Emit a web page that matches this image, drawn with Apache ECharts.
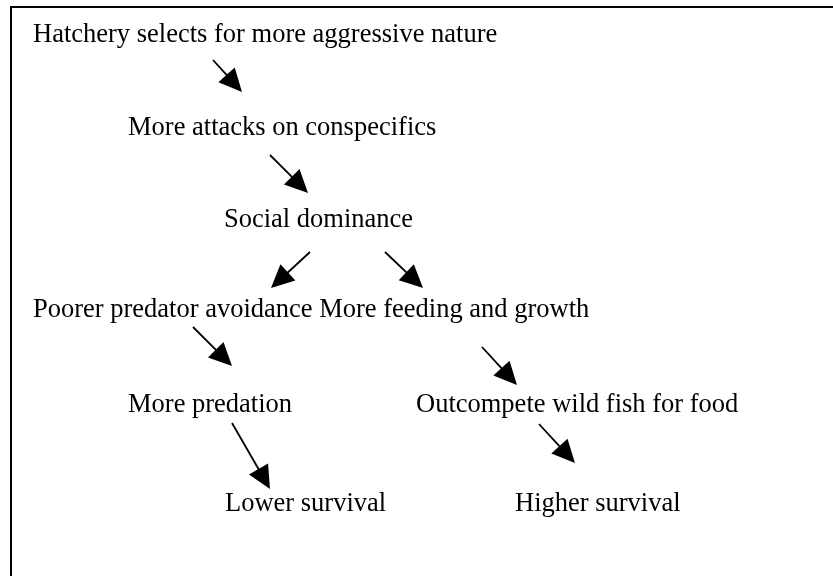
<!DOCTYPE html>
<html>
<head>
<meta charset="utf-8">
<script src="https://cdn.jsdelivr.net/npm/echarts@6/dist/echarts.min.js"></script>
<style>
html,body{margin:0;padding:0;background:#fff;}
#main{width:833px;height:576px;}
</style>
</head>
<body>
<div id="main"></div>
<script>
// Diagram text boxes (diagram units = pixels of the original page)
const labels = [
  "Hatchery selects for more aggressive nature",
  "More attacks on conspecifics",
  "Social dominance",
  "Poorer predator avoidance More feeding and growth",
  "More predation",
  "Outcompete wild fish for food",
  "Lower survival",
  "Higher survival"
];
const labelX = [33, 128, 224, 33, 128, 416, 225, 515];
const labelY = [35, 128, 220, 310, 405, 405, 504, 504];

// Arrows: start and tip
const arrowFromX = [213, 270, 310, 385, 193, 482, 232, 539];
const arrowFromY = [60, 155, 252, 252, 327, 347, 423, 424];
const arrowToX   = [242, 308, 271, 423, 232, 517, 270, 575];
const arrowToY   = [92, 193, 288, 288, 366, 385, 489, 463];

const textData = labels.map((t, i) => [labelX[i], labelY[i], t]);
const arrowData = arrowFromX.map((x, i) => [x, arrowFromY[i], arrowToX[i], arrowToY[i]]);

const chart = echarts.init(document.getElementById('main'), null, {renderer: 'canvas'});
const FONT = '"Liberation Serif", "Times New Roman", serif';

chart.setOption({
  backgroundColor: '#ffffff',
  animation: false,
  grid: {left: 0, top: 0, width: 833, height: 576, show: false},
  xAxis: {type: 'value', min: 0, max: 833, show: false},
  yAxis: {type: 'value', min: 0, max: 576, inverse: true, show: false},
  graphic: [{
    type: 'polyline',
    shape: {points: [[11, 580], [11, 7], [840, 7]]},
    style: {stroke: '#000', lineWidth: 2, fill: null}
  }],
  series: [
    {
      type: 'custom',
      coordinateSystem: 'cartesian2d',
      data: arrowData,
      renderItem: function (params, api) {
        const p0 = api.coord([api.value(0), api.value(1)]);
        const p1 = api.coord([api.value(2), api.value(3)]);
        const dx = p1[0] - p0[0], dy = p1[1] - p0[1];
        const len = Math.sqrt(dx * dx + dy * dy);
        const ux = dx / len, uy = dy / len;
        const headLen = 23, headW = 11;
        const bx = p1[0] - ux * headLen, by = p1[1] - uy * headLen;
        const nx = -uy, ny = ux;
        return {
          type: 'group',
          children: [
            {type: 'line', shape: {x1: p0[0], y1: p0[1], x2: bx + ux * 2, y2: by + uy * 2},
             style: {stroke: '#000', lineWidth: 1.8}},
            {type: 'polygon', shape: {points: [[p1[0], p1[1]], [bx + nx * headW, by + ny * headW], [bx - nx * headW, by - ny * headW]]},
             style: {fill: '#000'}}
          ]
        };
      }
    },
    {
      type: 'custom',
      coordinateSystem: 'cartesian2d',
      data: textData,
      renderItem: function (params, api) {
        const p = api.coord([api.value(0), api.value(1)]);
        return {
          type: 'text',
          x: p[0], y: p[1],
          style: {
            text: textData[params.dataIndex][2],
            fill: '#000',
            font: '26.5px ' + FONT,
            align: 'left',
            verticalAlign: 'middle'
          }
        };
      }
    }
  ]
});
</script>
</body>
</html>
